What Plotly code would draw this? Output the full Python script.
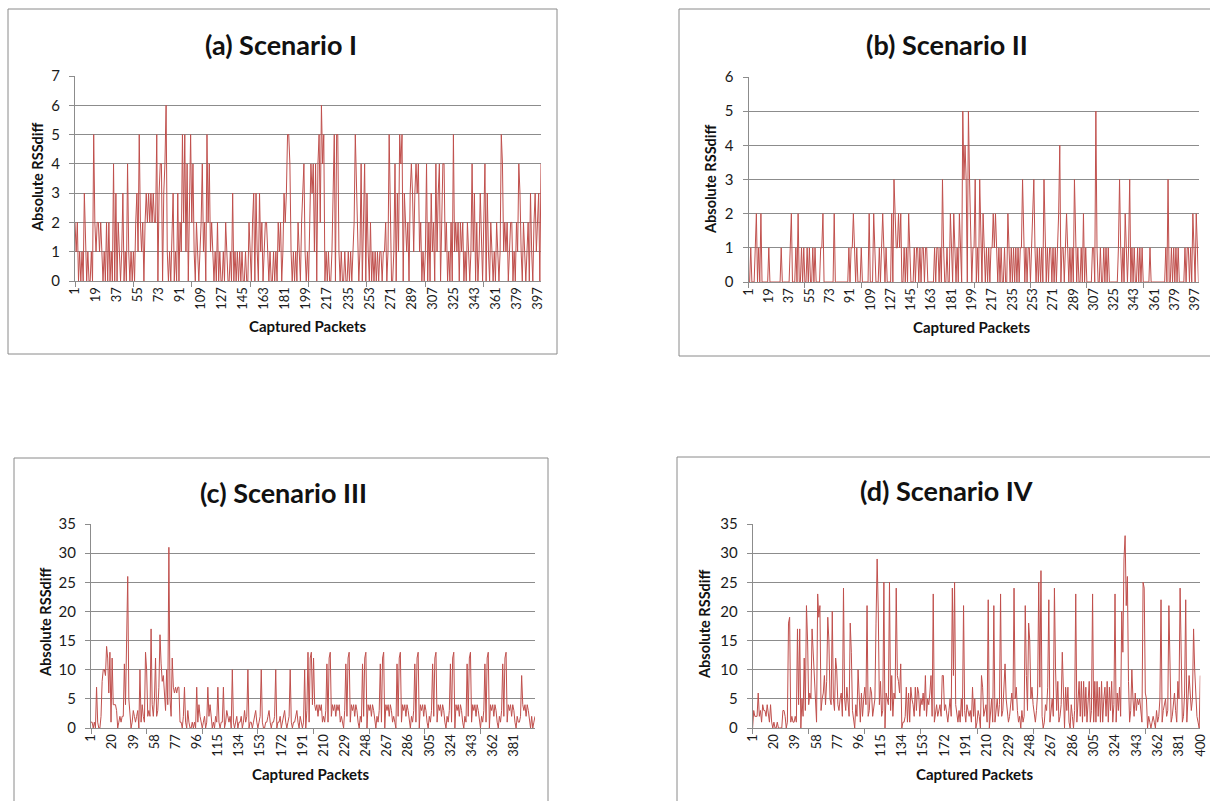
import plotly.graph_objects as go

W, H = 1210, 801

packets = list(range(1, 401))

scenario_a = [
    2,1,2,0,1,0,1,0,3,1,0,1,0,0,1,0,5,2,1,2,
    2,1,2,1,0,1,0,2,0,2,0,1,0,4,0,3,0,2,1,0,
    1,3,0,1,0,4,1,0,1,0,1,0,2,3,1,5,2,1,2,0,
    2,3,2,3,2,3,2,3,2,2,5,0,3,4,4,0,3,4,6,1,
    0,1,0,2,3,0,1,0,3,0,2,1,5,2,5,1,4,0,2,5,
    2,4,1,0,2,1,0,1,2,4,1,2,0,5,2,4,1,2,1,0,
    1,0,2,0,1,0,0,1,0,2,1,0,0,1,0,3,0,1,0,1,
    0,1,0,1,0,0,1,0,0,2,1,0,2,3,0,3,1,0,3,1,
    2,0,1,2,2,1,0,1,0,0,1,0,1,0,2,1,2,0,1,3,
    2,3,5,5,4,1,0,1,0,1,0,2,1,0,2,3,4,1,0,1,
    0,2,4,3,4,1,4,0,4,5,2,6,4,5,0,1,0,1,0,0,
    1,3,5,0,5,5,1,0,1,0,0,1,0,0,1,0,1,0,1,2,
    5,3,1,0,1,4,0,2,4,0,3,1,0,2,0,1,0,1,0,1,
    0,1,1,0,1,1,2,0,1,5,2,0,0,1,4,0,3,1,5,4,
    5,0,3,2,1,2,0,3,4,3,1,3,4,3,4,1,2,0,1,0,
    1,4,0,2,0,3,1,2,0,4,1,3,4,0,2,4,4,1,2,0,
    1,0,2,0,5,1,2,1,2,0,2,1,2,0,1,0,2,1,0,1,
    4,1,3,0,2,0,1,3,1,0,2,4,0,3,1,0,2,1,0,1,
    0,2,1,0,1,5,4,1,2,1,2,0,1,2,2,0,1,0,2,1,
    4,3,1,0,2,1,0,1,2,0,3,1,0,2,3,1,2,3,0,4,
]

scenario_b = [
    0,0,1,0,0,0,1,2,0,1,0,2,0,0,0,0,0,0,1,0,
    0,0,0,0,0,0,0,0,0,1,0,0,0,0,0,0,0,1,2,0,
    0,0,1,0,2,0,0,1,0,1,0,0,1,0,1,0,0,1,0,1,
    0,0,0,0,1,1,2,0,0,0,0,0,0,0,0,0,2,0,0,0,
    0,0,0,0,0,0,0,0,0,1,0,1,1,2,1,0,1,0,0,0,
    1,0,0,0,0,0,0,2,0,0,0,2,1,0,0,0,1,0,1,2,
    1,0,1,0,0,0,0,2,0,3,2,1,1,2,1,2,0,0,1,0,
    1,0,2,1,0,0,0,1,0,1,1,0,1,0,1,1,0,1,1,0,
    0,0,0,0,0,1,0,1,1,0,1,0,3,1,0,0,1,0,0,2,
    1,0,2,1,0,1,0,2,1,0,5,3,4,3,0,5,3,1,0,1,
    1,3,0,1,0,3,1,0,2,1,0,1,0,1,0,1,1,2,1,2,
    1,0,1,0,1,0,0,1,0,0,2,1,0,1,0,1,0,1,0,1,
    0,1,1,3,1,0,1,0,1,1,0,1,2,3,1,0,1,0,1,0,
    1,0,3,1,0,1,0,1,1,0,1,0,1,0,1,2,4,0,1,1,
    0,1,2,1,0,1,0,1,0,3,1,0,1,0,0,1,0,2,0,1,
    0,0,0,0,0,1,1,0,5,1,0,0,1,0,0,1,0,1,0,1,
    0,0,0,0,0,0,0,0,1,3,1,0,1,0,2,1,0,1,3,0,
    1,0,1,0,0,1,0,1,0,1,0,0,0,0,0,0,1,0,0,0,
    0,0,0,0,0,0,0,0,0,0,1,0,3,0,0,1,0,1,0,1,
    0,1,0,0,0,0,0,1,0,1,1,0,1,0,2,1,0,2,1,0,
]

scenario_c = [
    1,1,0,1,0,7,1,0,0,2,8,10,10,9,14,12,6,13,1,12,
    4,4,4,3,0,1,2,1,2,2,11,4,14,26,5,2,0,1,3,2,
    1,2,3,0,10,1,4,2,1,13,10,2,3,2,17,4,2,5,12,2,
    3,7,16,11,8,9,5,3,10,4,31,5,2,12,7,6,7,6,7,7,
    1,1,0,2,7,1,0,3,1,0,0,1,0,1,0,7,1,4,2,1,
    0,1,2,0,1,7,2,4,1,0,1,0,2,1,7,1,0,1,1,7,
    0,1,3,2,1,2,0,10,1,0,1,2,0,1,1,2,0,1,3,1,
    2,10,0,1,1,0,1,2,3,1,0,1,2,10,1,0,0,1,1,2,
    3,1,0,1,1,2,10,0,1,1,2,0,1,2,3,1,0,1,2,10,
    1,0,1,1,2,3,1,0,2,1,0,1,10,0,3,13,1,12,13,4,
    12,4,3,4,2,4,3,4,1,2,1,3,11,1,12,13,2,4,3,4,
    2,4,3,4,1,2,1,0,3,11,2,12,13,1,4,3,4,2,4,3,
    1,0,2,1,11,2,12,13,0,4,3,4,2,4,3,1,0,2,1,3,
    11,1,12,13,0,4,3,4,2,4,3,1,2,1,0,11,2,12,13,1,
    4,3,4,2,4,3,1,0,2,1,3,11,1,12,13,0,4,3,4,2,
    4,3,1,0,2,1,3,11,2,12,13,1,4,3,4,2,4,3,1,0,
    2,1,3,11,1,12,13,0,4,3,4,2,4,3,1,0,2,1,11,2,
    12,13,1,4,3,4,2,4,3,1,0,2,1,3,11,1,12,13,0,4,
    3,4,2,4,3,1,0,2,1,3,11,2,12,13,1,4,3,4,2,4,
    3,1,0,2,1,1,2,9,4,3,4,2,4,3,1,0,2,0,1,2,
]

scenario_d = [
    0,3,2,2,2,6,2,3,1,4,3,3,2,4,2,1,4,1,0,1,
    0,0,1,0,0,0,0,3,3,2,0,1,18,19,1,2,1,1,2,1,
    17,4,17,0,5,2,12,3,21,15,4,6,5,17,13,9,5,1,23,19,
    21,3,5,6,9,4,8,19,15,5,4,20,5,3,12,10,4,3,5,6,
    2,24,5,3,7,4,2,18,13,3,1,0,4,2,10,5,1,6,2,5,
    7,4,21,2,3,7,6,2,4,5,18,29,20,4,8,2,3,25,0,6,
    5,4,25,3,9,2,6,5,24,9,8,6,11,0,1,1,2,7,1,6,
    1,7,5,4,2,7,3,7,6,2,5,4,6,3,9,2,5,4,6,9,
    2,23,1,3,4,2,3,4,2,9,9,3,4,2,1,3,5,2,24,9,
    25,4,2,1,3,1,5,2,21,3,1,4,3,2,3,1,7,2,5,0,
    1,3,2,0,9,7,2,3,4,1,22,0,2,5,1,21,1,3,5,2,
    4,23,2,3,6,11,5,3,1,2,4,6,3,24,5,7,3,1,2,0,
    3,1,2,21,9,3,18,15,5,7,4,2,1,3,6,25,7,27,2,0,
    1,4,3,7,22,1,3,5,2,24,10,3,8,1,2,4,13,5,0,7,
    3,7,1,0,4,2,0,3,23,1,5,8,2,8,1,8,2,7,1,5,
    8,1,3,23,1,8,1,8,2,7,1,8,1,5,7,2,8,1,7,3,
    8,1,4,23,1,6,3,7,2,20,13,29,33,21,26,8,1,3,10,5,
    2,6,3,5,4,5,3,1,25,24,6,5,0,2,1,0,1,2,1,0,
    3,1,2,5,22,1,3,4,5,2,3,21,8,1,2,5,6,3,1,8,
    5,24,9,1,2,6,22,1,5,9,6,3,5,17,10,4,2,1,0,9,
]

titles = ["(a) Scenario I", "(b) Scenario II", "(c) Scenario III", "(d) Scenario IV"]
x_title = "Captured Packets"
y_title = "Absolute RSSdiff"

ticks_ab = list(range(1, 401, 18))   # 1, 19, ..., 397
ticks_c = list(range(1, 382, 19))    # 1, 20, ..., 381
ticks_d = list(range(1, 401, 19))    # 1, 20, ..., 400
y_max = [7, 6, 35, 35]
y_step = [1, 1, 5, 5]

# ---- layout geometry (pixels) ----
plot_px = [  # x0, x1, y_top, y_bottom
    (75, 541, 76, 281),
    (748.5, 1198.5, 77, 282),
    (91, 535, 524, 728),
    (752.6, 1200.3, 524, 728),
]
box_px = [
    (8, 557, 9, 354),
    (679, 1214, 9, 356),
    (14, 548, 458, 806),
    (677, 1214, 457, 806),
]
title_px = [(281, 44), (947, 44), (283, 493), (946, 490)]
xtitle_px = [(308, 326), (972, 327), (311, 774), (975, 774)]
ytitle_px = [(37, 178), (710, 180), (45, 623), (704, 625)]

def px_x(v):
    return v / W

def px_y(v):
    return 1 - v / H

FONT = "Lato, 'Open Sans', Arial, sans-serif"
LINE_COLOR = "#C0504D"
GRID = "#8C8C8C"

fig = go.Figure()
series = [scenario_a, scenario_b, scenario_c, scenario_d]
tickvals = [ticks_ab, ticks_ab, ticks_c, ticks_d]

layout = dict(
    width=W, height=H,
    margin=dict(l=0, r=0, t=0, b=0, autoexpand=False),
    paper_bgcolor="white", plot_bgcolor="white",
    showlegend=False,
    font=dict(family=FONT, color="#1a1a1a"),
)
shapes = []
annotations = []

for i in range(4):
    n = "" if i == 0 else str(i + 1)
    fig.add_trace(go.Scatter(
        x=packets, y=series[i], mode="lines",
        line=dict(color=LINE_COLOR, width=1),
        xaxis="x" + n, yaxis="y" + n, hoverinfo="x+y",
    ))
    x0, x1, yt, yb = plot_px[i]
    layout["xaxis" + n] = dict(
        domain=[px_x(x0), px_x(x1)], anchor="y" + n,
        range=[1, 400], tickmode="array", tickvals=tickvals[i],
        ticktext=[str(v) for v in tickvals[i]],
        tickangle=-90, tickfont=dict(size=13, family=FONT, color="#1a1a1a"),
        ticks="", showgrid=False, zeroline=False, automargin=False,
        showline=True, linecolor=GRID, linewidth=1,
        minor=dict(tickmode="linear", tick0=1, dtick=50, ticks="outside",
                   ticklen=5, tickcolor=GRID, showgrid=False),
        fixedrange=True,
    )
    layout["yaxis" + n] = dict(
        domain=[px_y(yb), px_y(yt)], anchor="x" + n,
        range=[0, y_max[i]], dtick=y_step[i], tick0=0,
        tickfont=dict(size=15, family=FONT, color="#1a1a1a"),
        ticks="outside", ticklen=5, tickcolor=GRID,
        showgrid=True, gridcolor=GRID, gridwidth=1, automargin=False,
        zeroline=False, showline=True, linecolor=GRID, linewidth=1,
        ticklabelstandoff=6,
        fixedrange=True,
    )
    bx0, bx1, by0, by1 = box_px[i]
    shapes.append(dict(type="rect", xref="paper", yref="paper",
                       x0=px_x(bx0), x1=px_x(bx1), y0=px_y(by1), y1=px_y(by0),
                       line=dict(color="#8A8A8A", width=1), fillcolor="rgba(0,0,0,0)",
                       layer="below"))
    tx, ty = title_px[i]
    annotations.append(dict(text="<b>" + titles[i] + "</b>", x=px_x(tx), y=px_y(ty),
                            xref="paper", yref="paper", showarrow=False,
                            xanchor="center", yanchor="middle",
                            font=dict(size=27, family=FONT, color="#111")))
    ax, ay = xtitle_px[i]
    annotations.append(dict(text="<b>" + x_title + "</b>", x=px_x(ax), y=px_y(ay),
                            xref="paper", yref="paper", showarrow=False,
                            xanchor="center", yanchor="middle",
                            font=dict(size=15, family=FONT, color="#111")))
    yx, yy = ytitle_px[i]
    annotations.append(dict(text="<b>" + y_title + "</b>", x=px_x(yx), y=px_y(yy),
                            xref="paper", yref="paper", showarrow=False,
                            textangle=-90, xanchor="center", yanchor="middle",
                            font=dict(size=14.5, family=FONT, color="#111")))

layout["shapes"] = shapes
layout["annotations"] = annotations
fig.update_layout(**layout)

fig.write_html(
    "out.html",
    config={"displayModeBar": False},
    post_script="document.body.style.margin='0';document.body.style.overflow='hidden';",
)
